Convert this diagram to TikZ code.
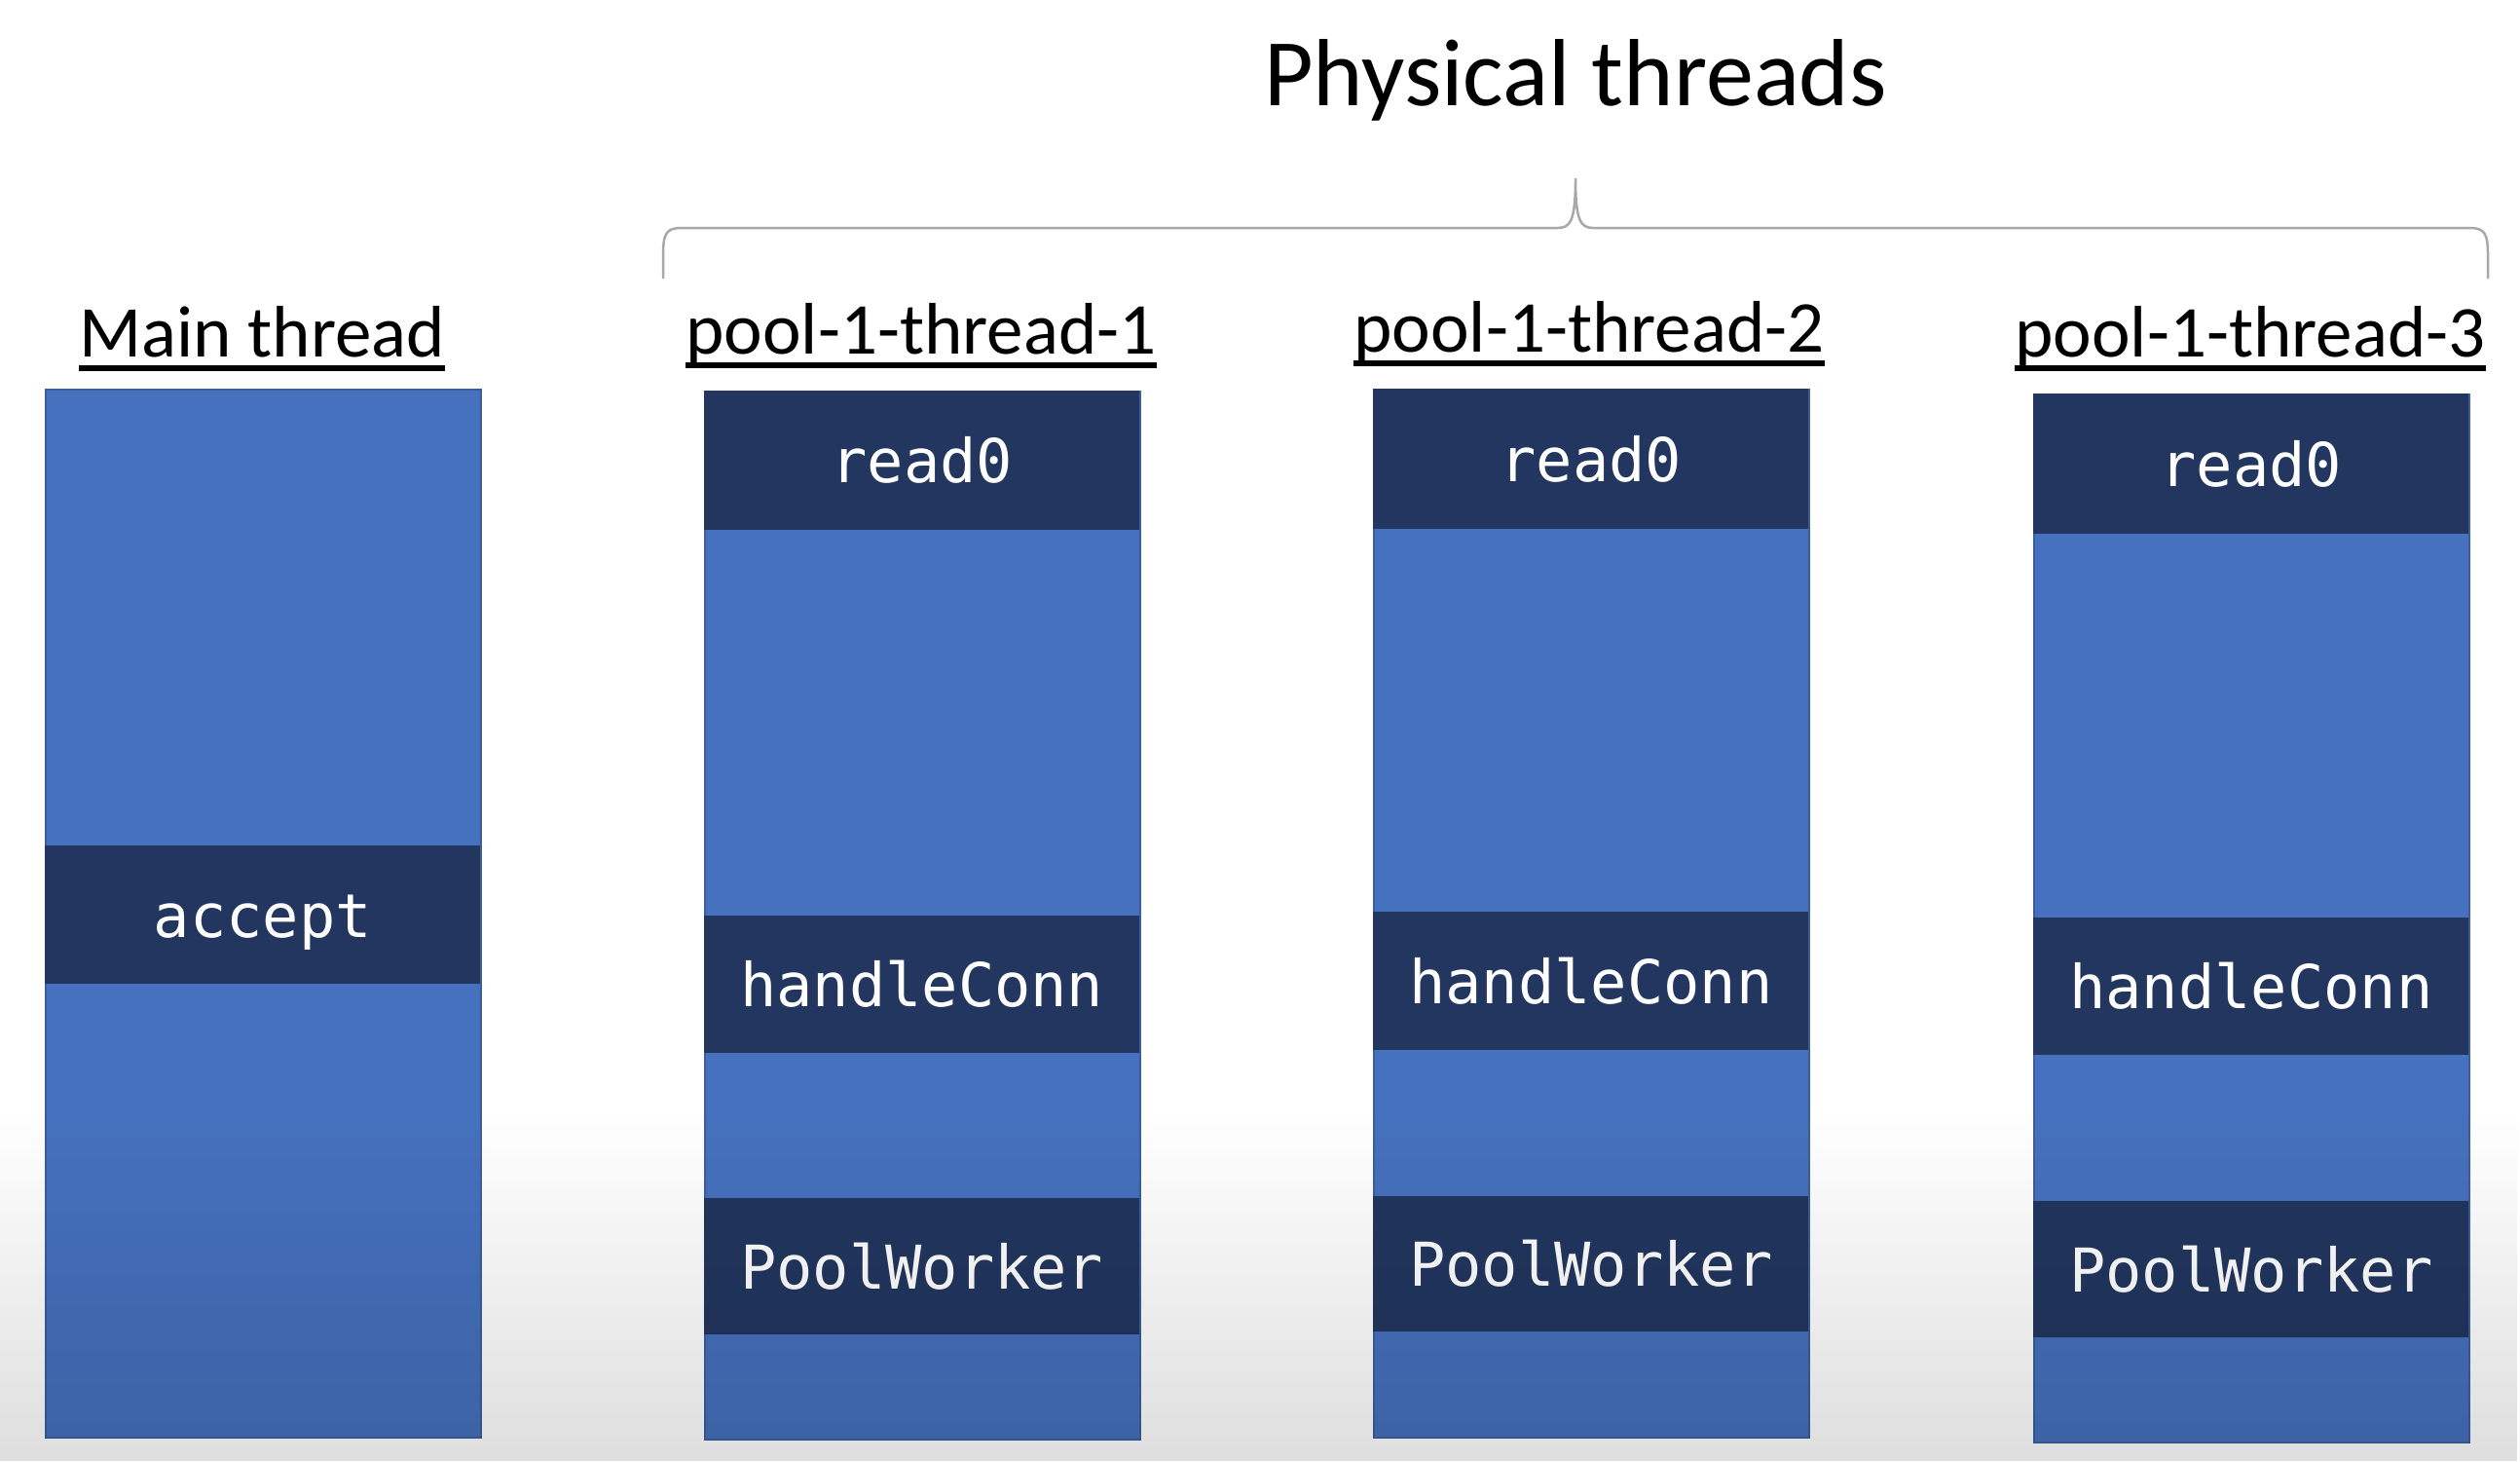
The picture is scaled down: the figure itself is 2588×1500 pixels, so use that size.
\documentclass[tikz,border=0pt]{standalone}
\usepackage{fontspec}
\setmainfont{Carlito}
\newfontfamily\monofont{DejaVu Sans Mono}
\usetikzlibrary{fadings}
\definecolor{colblue}{HTML}{4671BE}
\definecolor{coldark}{HTML}{22365F}
\definecolor{colborder}{HTML}{3D5E9E}
\definecolor{bracegray}{HTML}{A8A8A8}
\tikzfading[name=fadedown, top color=transparent!100, bottom color=transparent!0]
\tikzset{
  column/.style={fill=colblue, draw=colborder, line width=1.5pt, inner sep=0pt,
    minimum width=447pt, minimum height=1076pt, anchor=north west},
  band/.style={fill=coldark, inner sep=0pt, minimum width=447pt, anchor=north west,
    text=white, font=\monofont\fontsize{62}{62}\selectfont, text height=46pt, text depth=0pt},
  tlabel/.style={font=\fontsize{75}{75}\selectfont, anchor=base, inner sep=0pt},
  uline/.style={line width=5.5pt},
  titlelabel/.style={font=\fontsize{98}{98}\selectfont, anchor=base, inner sep=0pt},
  bracestyle/.style={draw=bracegray, line width=2.5pt}
}
\begin{document}
\begin{tikzpicture}[x=1pt,y=-1pt]
\useasboundingbox (0,0) rectangle (2588,1500);
\fill[white] (0,0) rectangle (2588,1500);

% title
\node[titlelabel] (title) at (1618,108) {Physical threads};

% brace
\coordinate (bl) at (681,286);
\coordinate (br) at (2555,286);
\coordinate (btip) at (1618,183);
\draw[bracestyle] (bl) -- (681,262) .. controls (681,240) and (684,234) .. (700,234)
  -- (1600,234) .. controls (1613,234) and (1618,226) .. (btip)
  .. controls (1618,226) and (1623,234) .. (1636,234)
  -- (2536,234) .. controls (2552,234) and (2555,240) .. (2555,262) -- (br);

% labels
\node[tlabel] (l0) at (269,366) {Main thread};
\node[tlabel] (l1) at (946,363) {pool-1-thread-1};
\node[tlabel] (l2) at (1632,361) {pool-1-thread-2};
\node[tlabel] (l3) at (2311,366) {pool-1-thread-3};
\foreach \n in {l0,l1,l2,l3}{
  \draw[uline] ([yshift=-12pt]\n.base west) -- ([yshift=-12pt]\n.base east);
}

% main thread column
\node[column] (c0) at (46,399) {};
\node[band, minimum height=142pt] (c0a) at (46,868) {accept};

% pool-1-thread-1
\node[column] (c1) at (723,401) {};
\node[band, minimum height=143pt] (c1a) at (723,401) {read0};
\node[band, minimum height=141pt] (c1b) at (723,940) {handleConn};
\node[band, minimum height=140pt] (c1c) at (723,1230) {PoolWorker};

% pool-1-thread-2
\node[column] (c2) at (1410,399) {};
\node[band, minimum height=144pt] (c2a) at (1410,399) {read0};
\node[band, minimum height=142pt] (c2b) at (1410,936) {handleConn};
\node[band, minimum height=139pt] (c2c) at (1410,1228) {PoolWorker};

% pool-1-thread-3
\node[column] (c3) at (2088,404) {};
\node[band, minimum height=144pt] (c3a) at (2088,404) {read0};
\node[band, minimum height=141pt] (c3b) at (2088,942) {handleConn};
\node[band, minimum height=140pt] (c3c) at (2088,1233) {PoolWorker};

% bottom darkening
\fill[black, opacity=0.13, path fading=fadedown] (0,1140) rectangle (2588,1500);
\end{tikzpicture}
\end{document}
